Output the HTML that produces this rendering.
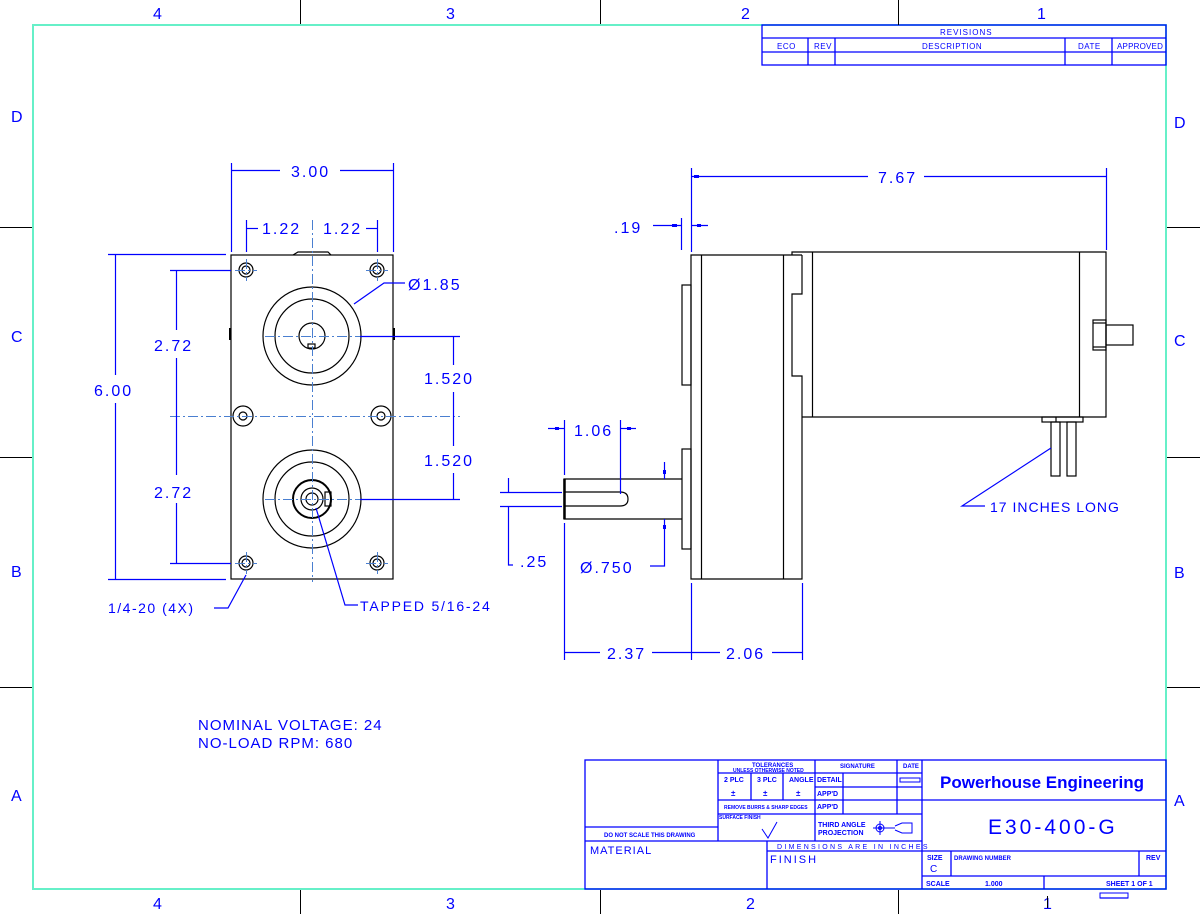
<!DOCTYPE html>
<html><head><meta charset="utf-8"><style>
html,body{margin:0;padding:0;background:#fff}
svg{display:block}
text{font-family:"Liberation Sans",sans-serif;fill:#0000ff}
.d{font-size:16px;letter-spacing:2px}
.s{font-size:6px;font-weight:bold}
.m{font-size:8px;letter-spacing:1px}
</style></head><body>
<svg width="1200" height="914" viewBox="0 0 1200 914" xmlns="http://www.w3.org/2000/svg">
<!-- zone ticks -->
<g stroke="#000" stroke-width="1">
<line x1="300.5" y1="0" x2="300.5" y2="24"/><line x1="600.5" y1="0" x2="600.5" y2="24"/><line x1="898.5" y1="0" x2="898.5" y2="24"/>
<line x1="300.5" y1="889" x2="300.5" y2="914"/><line x1="600.5" y1="889" x2="600.5" y2="914"/><line x1="898.5" y1="889" x2="898.5" y2="914"/>
<line x1="0" y1="227.5" x2="32" y2="227.5"/><line x1="0" y1="457.5" x2="32" y2="457.5"/><line x1="0" y1="687.5" x2="32" y2="687.5"/>
<line x1="1166" y1="227.5" x2="1200" y2="227.5"/><line x1="1166" y1="457.5" x2="1200" y2="457.5"/><line x1="1166" y1="687.5" x2="1200" y2="687.5"/>
</g>
<g>
<text x="153" y="19" class="d">4</text><text x="446" y="19" class="d">3</text><text x="741" y="19" class="d">2</text><text x="1037" y="19" class="d">1</text>
<text x="153" y="909" class="d">4</text><text x="446" y="909" class="d">3</text><text x="746" y="909" class="d">2</text><text x="1043" y="909" class="d">1</text>
<text x="11" y="122" class="d">D</text><text x="11" y="342" class="d">C</text><text x="11" y="577" class="d">B</text><text x="11" y="801" class="d">A</text>
<text x="1174" y="128" class="d">D</text><text x="1174" y="346" class="d">C</text><text x="1174" y="578" class="d">B</text><text x="1174" y="806" class="d">A</text>
</g>
<rect x="33" y="25" width="1133" height="864" fill="none" stroke="#66f0c8" stroke-width="2"/>

<!-- revisions -->
<g stroke="#0000ff" stroke-width="1.3" fill="none">
<rect x="762" y="25" width="404" height="40"/>
<line x1="762" y1="38" x2="1166" y2="38"/><line x1="762" y1="52" x2="1166" y2="52"/>
<line x1="808" y1="38" x2="808" y2="65"/><line x1="835" y1="38" x2="835" y2="65"/><line x1="1065" y1="38" x2="1065" y2="65"/><line x1="1112" y1="38" x2="1112" y2="65"/>
</g>
<line x1="898.5" y1="20" x2="898.5" y2="25" stroke="#000"/>
<g><text x="940" y="35" class="m">REVISIONS</text><text x="777" y="49" class="m" style="letter-spacing:0.5px">ECO</text><text x="814" y="49" class="m" style="letter-spacing:0.5px">REV</text><text x="922" y="49" class="m" style="letter-spacing:0.5px">DESCRIPTION</text><text x="1078" y="49" class="m" style="letter-spacing:0.5px">DATE</text><text x="1117" y="49" class="m" style="letter-spacing:0.2px">APPROVED</text></g>

<!-- FRONT VIEW -->
<g stroke="#000" stroke-width="1.2" fill="none">
<rect x="231" y="255" width="162" height="324"/>
<path d="M293 255 L298 252 L328 252 L331 255"/>
<line x1="230" y1="328" x2="230" y2="340" stroke-width="2"/><line x1="394" y1="328" x2="394" y2="340" stroke-width="2"/>
<circle cx="312" cy="336" r="49"/><circle cx="312" cy="336" r="37"/><circle cx="312" cy="336" r="13"/>
<rect x="308" y="344" width="7" height="4"/>
<circle cx="312" cy="499" r="49"/><circle cx="312" cy="499" r="37"/><circle cx="312" cy="499" r="19" stroke-width="2"/><circle cx="312" cy="499" r="11"/><circle cx="312" cy="499" r="6"/>
<rect x="325" y="492" width="6" height="14"/>
<circle cx="246" cy="270" r="7"/><circle cx="246" cy="270" r="4"/>
<circle cx="377" cy="270" r="7"/><circle cx="377" cy="270" r="4"/>
<circle cx="246" cy="563" r="7"/><circle cx="246" cy="563" r="4"/>
<circle cx="377" cy="563" r="7"/><circle cx="377" cy="563" r="4"/>
<circle cx="243" cy="416" r="10"/><circle cx="243" cy="416" r="4"/>
<circle cx="381" cy="416" r="10"/><circle cx="381" cy="416" r="4"/>
</g>
<g stroke="#4a7fd0" stroke-width="1" stroke-dasharray="10,3,2,3" fill="none">
<line x1="170" y1="416.5" x2="460" y2="416.5"/><line x1="312.5" y1="220" x2="312.5" y2="582"/>
<line x1="265" y1="336.5" x2="361" y2="336.5"/><line x1="265" y1="499.5" x2="361" y2="499.5"/>
<line x1="235" y1="270.5" x2="257" y2="270.5"/><line x1="366" y1="270.5" x2="388" y2="270.5"/>
<line x1="235" y1="563.5" x2="257" y2="563.5"/><line x1="366" y1="563.5" x2="388" y2="563.5"/>
<line x1="246.5" y1="259" x2="246.5" y2="281"/><line x1="377.5" y1="259" x2="377.5" y2="281"/>
<line x1="246.5" y1="552" x2="246.5" y2="574"/><line x1="377.5" y1="552" x2="377.5" y2="574"/>
</g>
<!-- front dims -->
<g stroke="#0000ff" stroke-width="1.2" fill="none">
<line x1="231.5" y1="163" x2="231.5" y2="252"/><line x1="393.5" y1="163" x2="393.5" y2="252"/>
<line x1="231" y1="170.5" x2="280" y2="170.5"/><line x1="340" y1="170.5" x2="393" y2="170.5"/>
<line x1="246.5" y1="220" x2="246.5" y2="252"/><line x1="377.5" y1="220" x2="377.5" y2="252"/>
<line x1="246" y1="228.5" x2="258" y2="228.5"/><line x1="366" y1="228.5" x2="377" y2="228.5"/>
<line x1="108" y1="254.5" x2="226" y2="254.5"/><line x1="108" y1="579.5" x2="226" y2="579.5"/>
<line x1="115.5" y1="254" x2="115.5" y2="375"/><line x1="115.5" y1="403" x2="115.5" y2="579"/>
<line x1="170" y1="270.5" x2="231" y2="270.5"/><line x1="170" y1="563.5" x2="231" y2="563.5"/>
<line x1="176.5" y1="270" x2="176.5" y2="330"/><line x1="176.5" y1="358" x2="176.5" y2="475"/><line x1="176.5" y1="503" x2="176.5" y2="563"/>
<line x1="360" y1="336.5" x2="460" y2="336.5"/><line x1="360" y1="499.5" x2="460" y2="499.5"/>
<line x1="453.5" y1="336" x2="453.5" y2="365"/><line x1="453.5" y1="392" x2="453.5" y2="446"/><line x1="453.5" y1="473" x2="453.5" y2="499"/>
<polyline points="354,304 384,283 405,283"/>
<polyline points="246,575 228,608 214,608"/>
<polyline points="316,508 345,605 358,605"/>
</g>
<g>
<text x="291" y="177" class="d">3.00</text>
<text x="262" y="234" class="d">1.22</text><text x="323" y="234" class="d">1.22</text>
<text x="94" y="396" class="d">6.00</text>
<text x="154" y="351" class="d">2.72</text><text x="154" y="498" class="d">2.72</text>
<text x="408" y="290" class="d">Ø1.85</text>
<text x="424" y="384" class="d">1.520</text><text x="424" y="466" class="d">1.520</text>
<text x="108" y="613" class="d" style="font-size:14px;letter-spacing:1.5px">1/4-20 (4X)</text>
<text x="360" y="611" class="d" style="font-size:14px;letter-spacing:1.8px">TAPPED 5/16-24</text>
</g>

<!-- SIDE VIEW -->
<g stroke="#000" stroke-width="1.2" fill="none">
<polyline points="802,255 691,255 691,579 802,579 802,376 792,376 792,294 802,294 802,255"/>
<line x1="701.5" y1="255" x2="701.5" y2="579"/><line x1="783.5" y1="255" x2="783.5" y2="579"/>
<polyline points="792,255 792,252 1106,252 1106,417 802,417"/>
<line x1="812.5" y1="252" x2="812.5" y2="417"/><line x1="1079.5" y1="252" x2="1079.5" y2="417"/>
<rect x="1093" y="320" width="13" height="30"/><line x1="1093" y1="323" x2="1106" y2="323"/><line x1="1093" y1="347" x2="1106" y2="347"/>
<rect x="1106" y="325" width="27" height="20"/>
<rect x="1042" y="417" width="41" height="5"/><line x1="1056" y1="417" x2="1056" y2="422"/>
<rect x="1051" y="422" width="9" height="54"/><rect x="1067" y="422" width="9" height="54"/>
<rect x="682" y="285" width="9" height="100"/><rect x="682" y="449" width="9" height="100"/>
<polyline points="682,479 564,479 564,519 682,519"/>
<path d="M564 492 L620 492 Q628 492 628 499 Q628 506 620 506 L564 506"/>
<line x1="564.5" y1="479" x2="564.5" y2="519" stroke-width="2.5"/>
</g>
<g stroke="#0000ff" stroke-width="1.2" fill="none">
<line x1="691.5" y1="168" x2="691.5" y2="252"/><line x1="1106.5" y1="168" x2="1106.5" y2="250"/>
<line x1="691" y1="176.5" x2="868" y2="176.5"/><line x1="924" y1="176.5" x2="1106" y2="176.5"/>
<line x1="681.5" y1="218" x2="681.5" y2="250"/>
<line x1="653" y1="225.5" x2="681" y2="225.5"/><line x1="691" y1="225.5" x2="708" y2="225.5"/>
<line x1="548" y1="428.5" x2="564" y2="428.5"/><line x1="620" y1="428.5" x2="636" y2="428.5"/>
<line x1="564.5" y1="420" x2="564.5" y2="475"/><line x1="620.5" y1="420" x2="620.5" y2="494"/>
<line x1="500" y1="492.5" x2="562" y2="492.5"/><line x1="500" y1="506.5" x2="562" y2="506.5"/>
<line x1="508.5" y1="478" x2="508.5" y2="492"/><polyline points="508.5,506 508.5,565 513,565"/>
<line x1="664.5" y1="462" x2="664.5" y2="479"/><polyline points="664.5,519 664.5,566 650,566"/>
<line x1="564.5" y1="523" x2="564.5" y2="660"/><line x1="691.5" y1="583" x2="691.5" y2="660"/><line x1="802.5" y1="583" x2="802.5" y2="660"/>
<line x1="564" y1="652.5" x2="600" y2="652.5"/><line x1="652" y1="652.5" x2="720" y2="652.5"/><line x1="772" y1="652.5" x2="802" y2="652.5"/>
<polyline points="1051,448 962,506 985,506"/>
</g>
<g fill="#0000ff">
<rect x="672" y="224" width="5" height="3"/><rect x="697" y="224" width="4" height="3"/><rect x="694" y="175" width="5" height="3"/>
<rect x="555" y="427" width="4" height="3"/><rect x="627" y="427" width="4" height="3"/>
<rect x="663" y="470" width="3" height="4"/><rect x="663" y="525" width="3" height="4"/>
</g>
<g>
<text x="878" y="183" class="d">7.67</text>
<text x="614" y="233" class="d">.19</text>
<text x="574" y="436" class="d">1.06</text>
<text x="520" y="567" class="d">.25</text>
<text x="580" y="573" class="d">Ø.750</text>
<text x="607" y="659" class="d">2.37</text>
<text x="726" y="659" class="d">2.06</text>
<text x="990" y="512" class="d" style="font-size:14px;letter-spacing:1px">17 INCHES LONG</text>
<text x="198" y="730" class="d" style="font-size:15px;letter-spacing:1px">NOMINAL VOLTAGE: 24</text>
<text x="198" y="748" class="d" style="font-size:15px;letter-spacing:1px">NO-LOAD RPM:  680</text>
</g>

<!-- TITLE BLOCK -->
<g stroke="#0000ff" stroke-width="1.3" fill="none">
<rect x="585" y="760" width="581" height="129"/>
<line x1="718" y1="760" x2="718" y2="841"/><line x1="922" y1="760" x2="922" y2="889"/>
<line x1="585" y1="841" x2="922" y2="841"/><line x1="585" y1="827" x2="718" y2="827"/>
<line x1="718" y1="773" x2="922" y2="773"/><line x1="815" y1="787" x2="922" y2="787"/>
<line x1="718" y1="800" x2="922" y2="800"/><line x1="718" y1="814" x2="922" y2="814"/>
<line x1="751" y1="773" x2="751" y2="800"/><line x1="783" y1="773" x2="783" y2="800"/>
<line x1="815" y1="760" x2="815" y2="841"/><line x1="843" y1="773" x2="843" y2="814"/><line x1="897" y1="760" x2="897" y2="814"/>
<line x1="767" y1="841" x2="767" y2="889"/><line x1="767" y1="851" x2="922" y2="851"/>
<line x1="922" y1="800" x2="1166" y2="800"/><line x1="922" y1="851" x2="1166" y2="851"/><line x1="922" y1="876" x2="1166" y2="876"/>
<line x1="951" y1="851" x2="951" y2="876"/><line x1="1139" y1="851" x2="1139" y2="876"/><line x1="1044" y1="876" x2="1044" y2="889"/>
<rect x="900" y="778" width="20" height="4" stroke-width="1"/>
<polyline points="762,829 768,838 777,822" stroke-width="1"/>
<circle cx="880" cy="828" r="4" stroke-width="1"/><circle cx="880" cy="828" r="1.5" stroke-width="1"/>
<line x1="873" y1="828" x2="895" y2="828" stroke-width="1"/><line x1="880" y1="821" x2="880" y2="835" stroke-width="1"/>
<polyline points="895,826 902,823 912,823 912,833 902,833 895,830" stroke-width="1"/>
<rect x="1100" y="893" width="28" height="5" stroke-width="1"/><line x1="1100" y1="898" x2="1128" y2="898"/>
</g>
<line x1="1047.5" y1="896" x2="1047.5" y2="908" stroke="#000"/>
<g>
<text x="752" y="767" class="s">TOLERANCES</text><text x="733" y="772" class="s" style="font-size:5px">UNLESS OTHERWISE NOTED</text>
<text x="840" y="768" class="s">SIGNATURE</text><text x="903" y="768" class="s">DATE</text>
<text x="724" y="782" class="s" style="font-size:7px">2 PLC</text><text x="757" y="782" class="s" style="font-size:7px">3 PLC</text><text x="789" y="782" class="s" style="font-size:7px">ANGLE</text>
<text x="731" y="796" class="s" style="font-size:8px">±</text><text x="763" y="796" class="s" style="font-size:8px">±</text><text x="796" y="796" class="s" style="font-size:8px">±</text>
<text x="817" y="782" class="s" style="font-size:7px">DETAIL</text><text x="817" y="796" class="s" style="font-size:7px">APP'D</text><text x="817" y="809" class="s" style="font-size:7px">APP'D</text>
<text x="724" y="809" class="s" style="font-size:5px">REMOVE BURRS &amp; SHARP EDGES</text>
<text x="719" y="819" class="s" style="font-size:5px">SURFACE FINISH</text>
<text x="818" y="827" class="s" style="font-size:7px">THIRD ANGLE</text><text x="818" y="835" class="s" style="font-size:7px">PROJECTION</text>
<text x="604" y="837" class="s">DO NOT SCALE THIS DRAWING</text>
<text x="590" y="854" class="m" style="font-size:11px">MATERIAL</text>
<text x="777" y="849" class="m" style="font-size:7px;letter-spacing:2.3px">DIMENSIONS ARE IN INCHES</text>
<text x="770" y="863" class="m" style="font-size:11px;letter-spacing:2px">FINISH</text>
<text x="927" y="860" class="s" style="font-size:7px">SIZE</text><text x="930" y="872" class="m" style="font-size:10px">C</text>
<text x="954" y="860" class="s" style="font-size:6px">DRAWING NUMBER</text><text x="1146" y="860" class="s" style="font-size:7px">REV</text>
<text x="926" y="886" class="s" style="font-size:7px">SCALE</text><text x="985" y="886" class="s" style="font-size:7px">1.000</text><text x="1106" y="886" class="s" style="font-size:7px">SHEET 1 OF 1</text>
</g>
<text x="940" y="788" style="font-family:'Liberation Sans',sans-serif;font-size:17px;font-weight:bold;fill:#0000ff">Powerhouse Engineering</text>
<text x="988" y="834" class="d" style="font-size:21px;letter-spacing:3px">E30-400-G</text>
</svg>
</body></html>
